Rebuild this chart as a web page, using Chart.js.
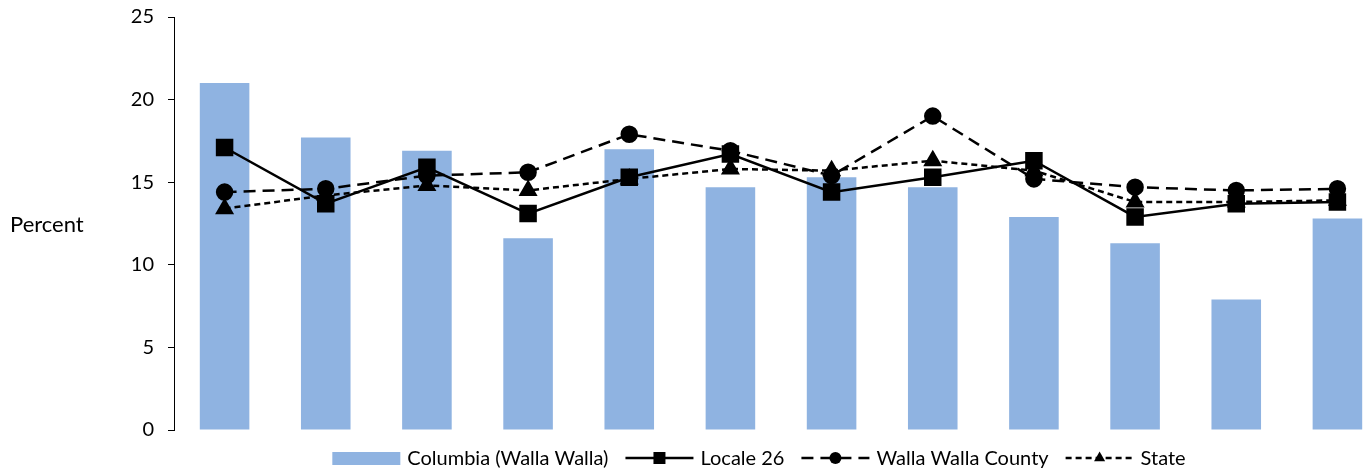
<!DOCTYPE html>
<html>
<head>
<meta charset="utf-8">
<script src="https://cdn.jsdelivr.net/npm/chart.js@4/dist/chart.umd.min.js"></script>
<style>
  html, body { margin: 0; padding: 0; overflow: hidden; background: #fff; }
  canvas { display: block; }
</style>
</head>
<body>
<canvas id="chart" width="1388" height="473"></canvas>
<script>
const categories = ["1", "2", "3", "4", "5", "6", "7", "8", "9", "10", "11", "12"];
const columbia = [21.0, 17.7, 16.9, 11.6, 17.0, 14.7, 15.3, 14.7, 12.9, 11.3, 7.9, 12.8];
const locale26 = [17.1, 13.7, 15.9, 13.1, 15.3, 16.7, 14.4, 15.3, 16.3, 12.9, 13.7, 13.8];
const county = [14.4, 14.6, 15.4, 15.6, 17.9, 16.9, 15.4, 19.0, 15.2, 14.7, 14.5, 14.6];
const state = [13.4, 14.2, 14.8, 14.5, 15.2, 15.8, 15.7, 16.3, 15.7, 13.8, 13.8, 13.9];
const yTicks = [0, 5, 10, 15, 20, 25];

const FONT_FAMILY = "Lato, 'Liberation Sans', sans-serif";
const FONT_SIZE = 20;
const LEGEND_CX = 759;
const LEGEND_Y = 458;

// own legend so the line samples show dash + marker together
const bottomLegend = {
  id: "bottomLegend",
  afterDraw(chart) {
    const c = chart.ctx;
    c.save();
    c.font = `${FONT_SIZE}px ${FONT_FAMILY}`;
    c.textBaseline = "middle";
    const sw = 68, gapA = 7, gapB = 17;
    const sets = chart.data.datasets;
    let total = 0;
    sets.forEach((d, i) => {
      total += sw + gapA + c.measureText(d.label).width + (i < sets.length - 1 ? gapB : 0);
    });
    let x = LEGEND_CX - total / 2;
    const y = LEGEND_Y;
    sets.forEach((d) => {
      if (d.type === "bar") {
        c.fillStyle = d.backgroundColor;
        c.fillRect(x, y - 6, sw, 13);
      } else {
        c.strokeStyle = "#000";
        c.lineWidth = d.borderWidth;
        c.setLineDash(d.borderDash || []);
        c.beginPath();
        c.moveTo(x, y);
        c.lineTo(x + sw, y);
        c.stroke();
        c.setLineDash([]);
        drawMarker(c, d.pointStyle, x + sw / 2, y, 0.8);
      }
      x += sw + gapA;
      c.fillStyle = "#000";
      c.fillText(d.label, x, y + 1);
      x += c.measureText(d.label).width + gapB;
    });
    c.restore();
  },
};

function drawMarker(c, style, x, y, k) {
  c.fillStyle = "#000";
  c.beginPath();
  if (style === "rect") {
    const s = 7.5 * k;
    c.rect(x - s, y - s, 2 * s, 2 * s);
  } else if (style === "circle") {
    c.arc(x, y, 7.5 * k, 0, Math.PI * 2);
  } else {
    const r = 8 * k;
    c.moveTo(x, y - r);
    c.lineTo(x + r * 0.866, y + r / 2);
    c.lineTo(x - r * 0.866, y + r / 2);
    c.closePath();
  }
  c.fill();
}

const axisTitle = {
  id: "axisTitle",
  afterDraw(chart) {
    const c = chart.ctx;
    const a = chart.chartArea;
    c.save();
    c.font = `22px ${FONT_FAMILY}`;
    c.fillStyle = "#000";
    c.textBaseline = "middle";
    c.textAlign = "left";
    c.fillText("Percent", 10, (a.top + a.bottom) / 2 + 1);
    c.restore();
  },
};

new Chart(document.getElementById("chart"), {
  data: {
    labels: categories,
    datasets: [
      {
        type: "bar",
        label: "Columbia (Walla Walla)",
        data: columbia,
        backgroundColor: "#8FB3E1",
        barPercentage: 0.49,
        categoryPercentage: 1,
        order: 4,
      },
      {
        type: "line",
        label: "Locale 26",
        data: locale26,
        borderColor: "#000",
        backgroundColor: "#000",
        borderWidth: 2.5,
        pointStyle: "rect",
        pointRadius: 10.6,
        order: 1,
      },
      {
        type: "line",
        label: "Walla Walla County",
        data: county,
        borderColor: "#000",
        backgroundColor: "#000",
        borderWidth: 2.5,
        borderDash: [12, 7],
        pointStyle: "circle",
        pointRadius: 7.5,
        order: 2,
      },
      {
        type: "line",
        label: "State",
        data: state,
        borderColor: "#000",
        backgroundColor: "#000",
        borderWidth: 2.5,
        borderDash: [6, 4],
        pointStyle: "triangle",
        pointRadius: 8.5,
        order: 3,
      },
    ],
  },
  options: {
    responsive: false,
    animation: false,
    layout: { autoPadding: false, padding: { left: 0, right: 0, top: 17, bottom: 43 } },
    plugins: {
      legend: { display: false },
      tooltip: { enabled: false },
    },
    scales: {
      x: { display: false, offset: true },
      y: {
        min: 0,
        max: 25,
        afterBuildTicks: (s) => { s.ticks = yTicks.map((v) => ({ value: v })); },
        afterFit: (s) => {
          s.width = 174;
          s.paddingTop = 0;
          s.paddingBottom = 0;
        },
        grid: { drawOnChartArea: false, drawTicks: true, tickLength: 6, color: "#000" },
        border: { display: true, color: "#000", width: 1 },
        ticks: {
          padding: 14,
          color: "#000",
          font: { family: FONT_FAMILY, size: FONT_SIZE },
        },
      },
    },
  },
  plugins: [bottomLegend, axisTitle],
});
</script>
</body>
</html>
